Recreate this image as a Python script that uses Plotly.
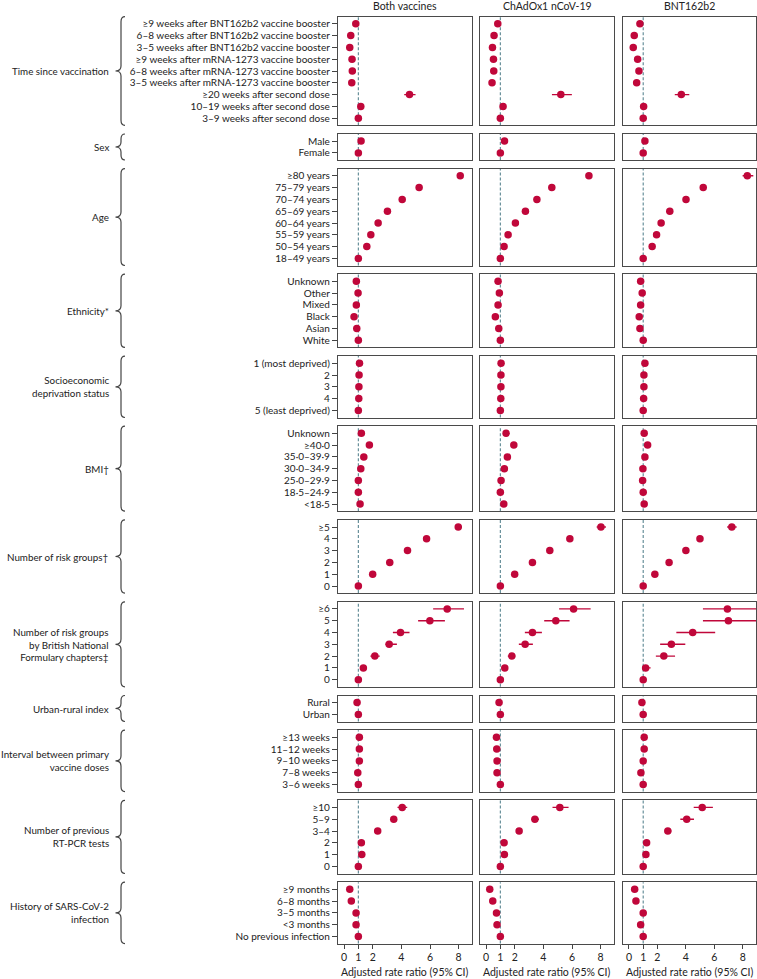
import plotly.graph_objects as go
from plotly.subplots import make_subplots

W, H = 757, 979
RED = "#c0073a"
FONT = "Lato"
TXT = "#222222"

vaccines = ["Both vaccines", "ChAdOx1 nCoV-19", "BNT162b2"]

group_titles = [
    "Time since vaccination", "Sex", "Age", "Ethnicity*",
    "Socioeconomic<br>deprivation status", "BMI\u2020", "Number of risk groups\u2020",
    "Number of risk groups<br>by British National<br>Formulary chapters\u2021",
    "Urban-rural index", "Interval between primary<br>vaccine doses",
    "Number of previous<br>RT-PCR tests", "History of SARS-CoV-2<br>infection",
]

time_labels = ["\u22659 weeks after BNT162b2 vaccine booster", "6\u20138 weeks after BNT162b2 vaccine booster",
               "3\u20135 weeks after BNT162b2 vaccine booster", "\u22659 weeks after mRNA-1273 vaccine booster",
               "6\u20138 weeks after mRNA-1273 vaccine booster", "3\u20135 weeks after mRNA-1273 vaccine booster",
               "\u226520 weeks after second dose", "10\u201319 weeks after second dose", "3\u20139 weeks after second dose"]
time_both = [0.82, 0.47, 0.40, 0.56, 0.58, 0.54, 4.57, 1.17, 1.0]
time_chad = [0.82, 0.56, 0.45, 0.52, 0.54, 0.42, 5.22, 1.19, 1.0]
time_bnt = [0.77, 0.37, 0.30, 0.61, 0.70, 0.54, 3.68, 1.03, 1.0]
time_both_ci = [None] * 6 + [(4.20, 4.99), None, None]
time_chad_ci = [None] * 6 + [(4.60, 5.99), None, None]
time_bnt_ci = [None] * 6 + [(3.22, 4.24), None, None]

sex_labels = ["Male", "Female"]
sex_both = [1.19, 1.0]
sex_chad = [1.29, 1.0]
sex_bnt = [1.12, 1.0]

age_labels = ["\u226580 years", "75\u201379 years", "70\u201374 years", "65\u201369 years",
              "60\u201364 years", "55\u201359 years", "50\u201354 years", "18\u201349 years"]
age_both = [8.11, 5.24, 4.06, 3.03, 2.38, 1.87, 1.59, 1.0]
age_chad = [7.18, 4.59, 3.55, 2.75, 2.05, 1.54, 1.26, 1.0]
age_bnt = [8.32, 5.22, 4.01, 2.87, 2.26, 1.94, 1.63, 1.0]
age_bnt_ci = [(7.99, 8.74), (5.05, 5.40)] + [None] * 6

eth_labels = ["Unknown", "Other", "Mixed", "Black", "Asian", "White"]
eth_both = [0.86, 0.98, 0.86, 0.70, 0.89, 1.0]
eth_chad = [0.84, 0.93, 0.84, 0.65, 0.89, 1.0]
eth_bnt = [0.82, 0.93, 0.82, 0.72, 0.77, 1.0]

ses_labels = ["1 (most deprived)", "2", "3", "4", "5 (least deprived)"]
ses_both = [1.08, 1.05, 1.04, 1.03, 1.0]
ses_chad = [1.05, 1.04, 1.04, 1.03, 1.0]
ses_bnt = [1.12, 1.05, 1.05, 1.03, 1.0]

bmi_labels = ["Unknown", "\u226540\u00b70", "35\u00b70\u201339\u00b79", "30\u00b70\u201334\u00b79",
              "25\u00b70\u201329\u00b79", "18\u00b75\u201324\u00b79", "<18\u00b75"]
bmi_both = [1.21, 1.77, 1.38, 1.17, 1.0, 1.0, 1.12]
bmi_chad = [1.40, 1.94, 1.49, 1.28, 1.05, 1.0, 1.24]
bmi_bnt = [1.07, 1.31, 1.12, 0.98, 0.96, 1.0, 1.07]

risk_labels = ["\u22655", "4", "3", "2", "1", "0"]
risk_both = [7.97, 5.76, 4.43, 3.19, 2.0, 1.0]
risk_chad = [8.02, 5.85, 4.45, 3.24, 2.0, 1.0]
risk_bnt = [7.23, 4.99, 4.00, 2.82, 1.82, 1.0]
risk_both_ci = [(7.74, 8.23)] + [None] * 5
risk_chad_ci = [(7.72, 8.37)] + [None] * 5
risk_bnt_ci = [(6.90, 7.57), (4.80, 5.20)] + [None] * 4

bnf_labels = ["\u22656", "5", "4", "3", "2", "1", "0"]
bnf_both = [7.20, 5.99, 3.94, 3.15, 2.15, 1.35, 1.0]
bnf_chad = [6.11, 4.87, 3.24, 2.73, 1.80, 1.31, 1.0]
bnf_bnt = [6.92, 6.99, 4.48, 2.98, 2.45, 1.17, 1.0]
bnf_both_ci = [(6.22, 8.37), (5.17, 7.04), (3.41, 4.57), (2.89, 3.69), (1.84, 2.49), (1.19, 1.56), None]
bnf_chad_ci = [(5.10, 7.30), (4.06, 5.83), (2.71, 3.90), (2.29, 3.27), (1.52, 2.05), (1.05, 1.52), None]
bnf_bnt_ci = [(5.20, 10.5), (5.20, 10.5), (3.33, 6.06), (2.19, 3.96), (1.89, 3.24), (0.98, 1.52), None]

urb_labels = ["Rural", "Urban"]
urb_both = [0.91, 1.0]
urb_chad = [0.91, 1.0]
urb_bnt = [0.91, 1.0]

int_labels = ["\u226513 weeks", "11\u201312 weeks", "9\u201310 weeks", "7\u20138 weeks", "3\u20136 weeks"]
int_both = [1.07, 1.07, 1.07, 0.96, 1.0]
int_chad = [0.73, 0.75, 0.77, 0.77, 1.0]
int_bnt = [1.07, 1.07, 1.0, 0.84, 1.0]

pcr_labels = ["\u226510", "5\u20139", "3\u20134", "2", "1", "0"]
pcr_both = [4.06, 3.47, 2.35, 1.21, 1.24, 1.0]
pcr_chad = [5.15, 3.41, 2.31, 1.26, 1.28, 1.0]
pcr_bnt = [5.15, 4.06, 2.73, 1.24, 1.19, 1.0]
pcr_both_ci = [(3.73, 4.41)] + [None] * 5
pcr_chad_ci = [(4.64, 5.76), (3.17, 3.69)] + [None] * 4
pcr_bnt_ci = [(4.55, 5.90), (3.61, 4.57), (2.52, 2.98)] + [None] * 3

sars_labels = ["\u22659 months", "6\u20138 months", "3\u20135 months", "<3 months", "No previous infection"]
sars_both = [0.40, 0.51, 0.84, 0.84, 1.0]
sars_chad = [0.26, 0.47, 0.73, 0.77, 1.0]
sars_bnt = [0.40, 0.49, 1.0, 0.82, 1.0]
sars_bnt_ci = [None, None, (0.84, 1.24), None, None]

groups = [
    (time_labels, [time_both, time_chad, time_bnt], [time_both_ci, time_chad_ci, time_bnt_ci]),
    (sex_labels, [sex_both, sex_chad, sex_bnt], [None, None, None]),
    (age_labels, [age_both, age_chad, age_bnt], [None, None, age_bnt_ci]),
    (eth_labels, [eth_both, eth_chad, eth_bnt], [None, None, None]),
    (ses_labels, [ses_both, ses_chad, ses_bnt], [None, None, None]),
    (bmi_labels, [bmi_both, bmi_chad, bmi_bnt], [None, None, None]),
    (risk_labels, [risk_both, risk_chad, risk_bnt], [risk_both_ci, risk_chad_ci, risk_bnt_ci]),
    (bnf_labels, [bnf_both, bnf_chad, bnf_bnt], [bnf_both_ci, bnf_chad_ci, bnf_bnt_ci]),
    (urb_labels, [urb_both, urb_chad, urb_bnt], [None, None, None]),
    (int_labels, [int_both, int_chad, int_bnt], [None, None, None]),
    (pcr_labels, [pcr_both, pcr_chad, pcr_bnt], [pcr_both_ci, pcr_chad_ci, pcr_bnt_ci]),
    (sars_labels, [sars_both, sars_chad, sars_bnt], [None, None, sars_bnt_ci]),
]

xticks = [0, 1, 2, 4, 6, 8]
XR = [-0.42, 8.93]

# ---- layout geometry (pixels) ----
col_px = [(338, 472), (480, 614), (623, 756)]
ROW = 11.8
PAD = 7.1
GAP = 8.7
TOP0 = 16.7


def fx(p):
    return p / W


def fy(p):
    return 1 - p / H


nG = len(groups)
fig = make_subplots(rows=nG, cols=3)

panel_px = []
top = TOP0
for labels, _, _ in groups:
    n = len(labels)
    h = (n - 1) * ROW + 2 * PAD
    panel_px.append((top, top + h))
    top = top + h + GAP

shapes = []
annotations = []
axis_font = dict(family=FONT, size=10, color=TXT)

for gi, (labels, vals, cis) in enumerate(groups):
    n = len(labels)
    t, b = panel_px[gi]
    r = gi + 1
    for ci_idx in range(3):
        c = ci_idx + 1
        est = vals[ci_idx]
        ci = cis[ci_idx] if cis[ci_idx] is not None else [None] * n
        plus = [(hi_lo[1] - e) if hi_lo else 0 for e, hi_lo in zip(est, ci)]
        minus = [(e - hi_lo[0]) if hi_lo else 0 for e, hi_lo in zip(est, ci)]
        fig.add_trace(go.Scatter(
            x=est, y=list(range(n)), mode="markers",
            marker=dict(color=RED, size=7.5),
            error_x=dict(type="data", symmetric=False, array=plus, arrayminus=minus,
                         color=RED, thickness=1.4, width=0),
            cliponaxis=True, showlegend=False, hoverinfo="skip"),
            row=r, col=c)
        x0, x1 = col_px[ci_idx]
        fig.update_xaxes(domain=[fx(x0), fx(x1)], range=XR, showgrid=False, zeroline=False,
                         showline=True, mirror=True, linecolor="#4a4a4a", linewidth=1.3,
                         tickvals=xticks, ticks="outside" if gi == nG - 1 else "",
                         ticklen=4, tickcolor="#444", showticklabels=(gi == nG - 1),
                         tickfont=dict(family=FONT, size=10.5, color=TXT),
                         row=r, col=c)
        fig.update_yaxes(domain=[fy(b), fy(t)], range=[n - 1 + PAD / ROW, -PAD / ROW],
                         showgrid=False, zeroline=False, showline=True, mirror=True,
                         linecolor="#4a4a4a", linewidth=1.3,
                         tickvals=list(range(n)), ticktext=labels,
                         ticks="outside" if c == 1 else "", ticklen=5, tickcolor="#444",
                         showticklabels=(c == 1), tickfont=axis_font,
                         row=r, col=c)
        idx = gi * 3 + c
        xs = "x" if idx == 1 else f"x{idx}"
        ys = "y" if idx == 1 else f"y{idx}"
        shapes.append(dict(type="line", xref=xs, yref=f"{ys} domain", x0=1, x1=1, y0=0, y1=1,
                           line=dict(color="#5b8792", width=1.1, dash="3px,2px"), layer="below"))

    # brace
    xr, xm, xl, rr = 125, 121, 115.5, 5
    ym = (t + b) / 2
    path = (f"M {fx(xr)},{fy(t)} Q {fx(xm)},{fy(t)} {fx(xm)},{fy(t + rr)} "
            f"L {fx(xm)},{fy(ym - rr)} Q {fx(xm)},{fy(ym)} {fx(xl)},{fy(ym)} "
            f"Q {fx(xm)},{fy(ym)} {fx(xm)},{fy(ym + rr)} "
            f"L {fx(xm)},{fy(b - rr)} Q {fx(xm)},{fy(b)} {fx(xr)},{fy(b)}")
    shapes.append(dict(type="path", xref="paper", yref="paper", path=path,
                       line=dict(color="#444", width=1.2)))
    annotations.append(dict(x=fx(111), y=fy(ym), xref="paper", yref="paper",
                            text=group_titles[gi], showarrow=False, xanchor="right",
                            yanchor="middle", align="right",
                            font=dict(family=FONT, size=9.8, color=TXT)))

for ci_idx, name in enumerate(vaccines):
    x0, x1 = col_px[ci_idx]
    annotations.append(dict(x=fx((x0 + x1) / 2), y=fy(5.5), xref="paper", yref="paper",
                            text=name, showarrow=False, xanchor="center", yanchor="middle",
                            font=dict(family=FONT, size=10.5, color=TXT)))
    annotations.append(dict(x=fx((x0 + x1) / 2), y=fy(972), xref="paper", yref="paper",
                            text="Adjusted rate ratio (95% CI)", showarrow=False,
                            xanchor="center", yanchor="middle",
                            font=dict(family=FONT, size=10.5, color=TXT)))

fig.update_layout(width=W, height=H, margin=dict(l=0, r=0, t=0, b=0),
                  paper_bgcolor="white", plot_bgcolor="white",
                  shapes=shapes, annotations=annotations, showlegend=False)

fig.write_html("out.html", config={"displayModeBar": False},
               post_script="document.body.style.margin='0';document.body.style.overflow='hidden';")
